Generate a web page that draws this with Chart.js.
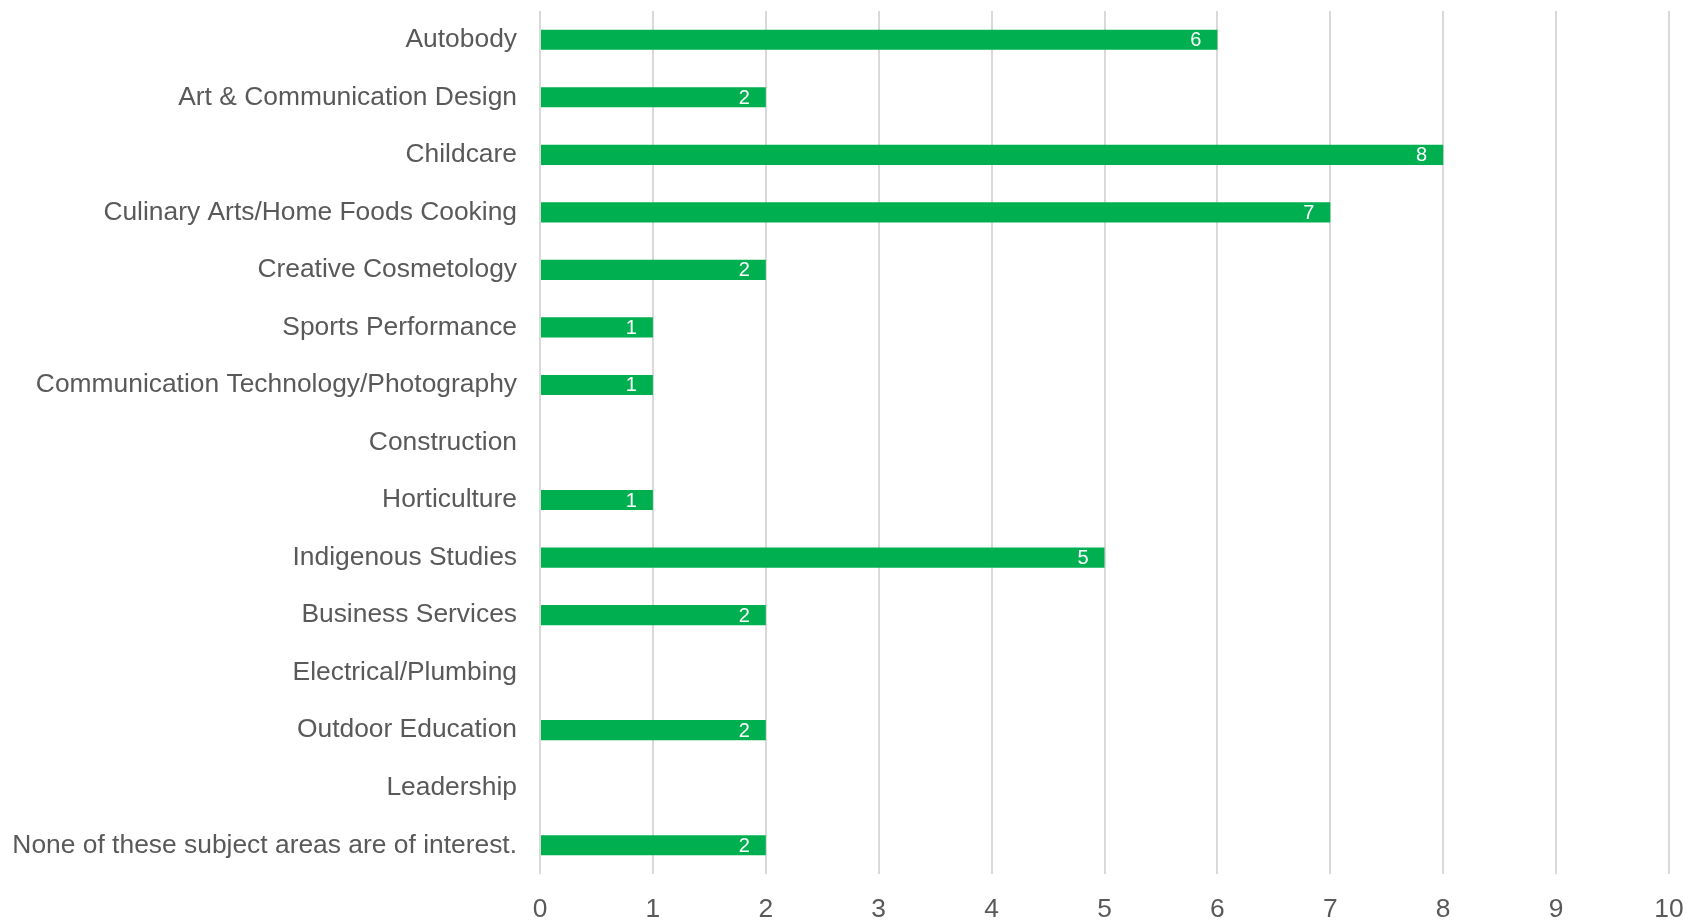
<!DOCTYPE html>
<html>
<head>
<meta charset="utf-8">
<script src="https://cdn.jsdelivr.net/npm/chart.js@4.4.1/dist/chart.umd.min.js"></script>
<style>
  html, body { margin: 0; padding: 0; background: #ffffff; }
  #wrap { width: 1694px; height: 920px; }
</style>
</head>
<body>
<div id="wrap"><canvas id="grafico" width="1694" height="920"></canvas></div>
<script>
const categorias = [
  "Autobody",
  "Art & Communication Design",
  "Childcare",
  "Culinary Arts/Home Foods Cooking",
  "Creative Cosmetology",
  "Sports Performance",
  "Communication Technology/Photography",
  "Construction",
  "Horticulture",
  "Indigenous Studies",
  "Business Services",
  "Electrical/Plumbing",
  "Outdoor Education",
  "Leadership",
  "None of these subject areas are of interest."
];
const valores = [6, 2, 8, 7, 2, 1, 1, 0, 1, 5, 2, 0, 2, 0, 2];
const ejeMin = 0;
const ejeMax = 10;
const paso = 1;

const verde = "#00b050";
const grisTexto = "#595959";
const grisGrilla = "#d9d9d9";
const fuente = "'Liberation Sans', Arial, sans-serif";

// Etiquetas blancas dentro del extremo de cada barra
const etiquetasBarras = {
  id: "etiquetasBarras",
  afterDatasetsDraw(chart) {
    const ctx = chart.ctx;
    const meta = chart.getDatasetMeta(0);
    ctx.save();
    ctx.font = "20px " + fuente;
    ctx.fillStyle = "#ffffff";
    ctx.textAlign = "right";
    ctx.textBaseline = "middle";
    meta.data.forEach((barra, i) => {
      if (!valores[i]) return;
      ctx.fillText(String(valores[i]), barra.x - 16, barra.y + 1);
    });
    ctx.restore();
  }
};

const ctx = document.getElementById("grafico").getContext("2d");
const chart = new Chart(ctx, {
  type: "bar",
  data: {
    labels: categorias,
    datasets: [{
      data: valores,
      backgroundColor: verde,
      borderWidth: 0,
      barPercentage: 0.35,
      categoryPercentage: 1.0
    }]
  },
  options: {
    indexAxis: "y",
    responsive: false,
    animation: false,
    layout: { autoPadding: false, padding: { top: 11, right: 25, left: 0, bottom: 0 } },
    plugins: {
      legend: { display: false },
      tooltip: { enabled: false }
    },
    scales: {
      x: {
        min: ejeMin,
        max: ejeMax,
        border: { display: false },
        grid: { color: grisGrilla, lineWidth: 2, drawTicks: false },
        ticks: {
          stepSize: paso,
          color: grisTexto,
          padding: 20,
          maxRotation: 0,
          font: { family: fuente, size: 26.4 }
        },
        afterFit(scale) {
          scale.height = 46;
          scale.paddingLeft = 0;
          scale.paddingRight = 0;
        }
      },
      y: {
        border: { display: false },
        grid: { display: false, drawTicks: false },
        ticks: {
          color: grisTexto,
          padding: 23,
          autoSkip: false,
          font: { family: fuente, size: 26.4 }
        },
        afterFit(scale) {
          scale.width = 540;
          scale.paddingTop = 0;
          scale.paddingBottom = 0;
        }
      }
    }
  },
  plugins: [etiquetasBarras]
});
</script>
</body>
</html>
